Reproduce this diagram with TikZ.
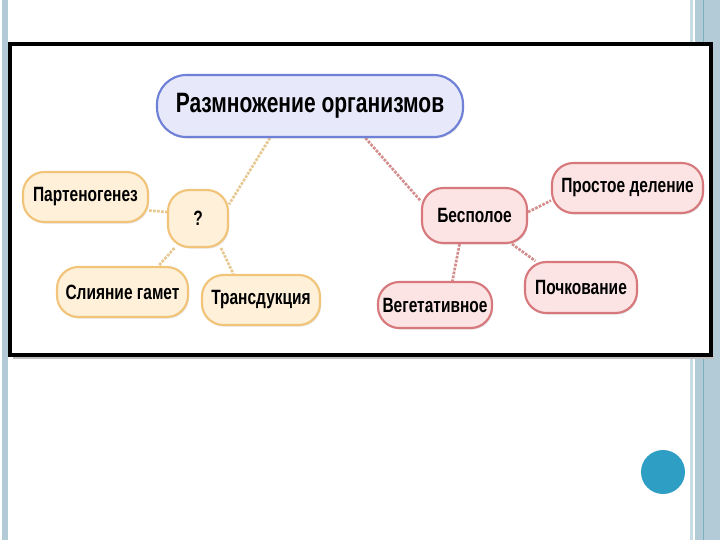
\documentclass[tikz,border=0pt]{standalone}
\usepackage{fontspec}
\newfontfamily\nf[FakeStretch=0.75]{Liberation Sans}
\usetikzlibrary{calc,shadows}
\definecolor{barblue}{HTML}{B2CBD6}
\definecolor{barlight}{HTML}{C7DCE4}
\definecolor{barline}{HTML}{7FAEC0}
\definecolor{circ}{HTML}{2F9EC4}
\definecolor{ofill}{HTML}{FEF0D9}
\definecolor{oline}{HTML}{F1C47A}
\definecolor{ocon}{HTML}{E6C890}
\definecolor{rfill}{HTML}{FDE4E4}
\definecolor{rline}{HTML}{D7787C}
\definecolor{rcon}{HTML}{D48C8C}
\definecolor{bfill}{HTML}{E7E9FB}
\definecolor{bline}{HTML}{6F81D6}
\pgfdeclarelayer{bg}
\pgfdeclarelayer{conn}
\pgfsetlayers{bg,conn,main}
\tikzset{
  bx/.style={rectangle, rounded corners=16pt, line width=1.6pt, inner sep=0pt,
    font=\nf\bfseries\fontsize{15.5}{18}\selectfont, text=black,
    drop shadow={opacity=0.22, shadow xshift=0.8pt, shadow yshift=-1.2pt}},
  ob/.style={bx, draw=oline, fill=ofill},
  rb/.style={bx, draw=rline, fill=rfill},
  mb/.style={bx, draw=bline, fill=bfill, rounded corners=22pt,
    font=\nf\bfseries\fontsize{21}{24}\selectfont},
  oc/.style={draw=ocon, line width=2pt, densely dotted},
  rc/.style={draw=rcon, line width=2pt, densely dotted}
}
\begin{document}
\begin{tikzpicture}[x=0.75pt,y=-0.75pt]
\useasboundingbox (0,0) rectangle (720,540);
\begin{pgfonlayer}{bg}
  \fill[white] (0,0) rectangle (720,540);
  \fill[barblue] (2,0) rectangle (8,540);
  \fill[barlight] (690,0) rectangle (693,540);
  \fill[barblue] (695,0) rectangle (720,540);
  \draw[barline, line width=0.8pt] (703.5,0) -- (703.5,540);
  \fill[black!25] (13,355) rectangle (714,359);
  \filldraw[fill=white, draw=black, line width=2.3pt] (10,44) rectangle (711,355);
  \fill[circ] (663,472) circle[radius=16.5pt];
\end{pgfonlayer}

\node[mb, minimum width=229.5pt, minimum height=46.5pt] (main) at (310,106) {Размножение организмов};
\node[ob, minimum width=93.75pt, minimum height=37.5pt] (part) at (85.5,197) {Партеногенез};
\node[ob, minimum width=45pt, minimum height=42.75pt] (q) at (198,218.5) {?};
\node[ob, minimum width=98.25pt, minimum height=37.5pt] (sl) at (122.5,292) {Слияние гамет};
\node[ob, minimum width=88.5pt, minimum height=37.5pt] (tr) at (261,300) {Трансдукция};
\node[rb, minimum width=78.75pt, minimum height=41.25pt] (bs) at (474.5,215.5) {Бесполое};
\node[rb, minimum width=113.25pt, minimum height=37.5pt] (pr) at (627.5,188) {Простое деление};
\node[rb, minimum width=85.5pt, minimum height=34.5pt] (vg) at (435,305) {Вегетативное};
\node[rb, minimum width=84pt, minimum height=38.25pt] (pc) at (581,287.5) {Почкование};

\begin{pgfonlayer}{conn}
  \draw[oc] ($(main.south west)!0.37!(main.south east)$) -- ($(q.north east)!0.26!(q.south east)$);
  \draw[oc] ($(part.north east)!0.76!(part.south east)$) -- ($(q.north west)!0.39!(q.south west)$);
  \draw[oc] ($(q.south west)!0.12!(q.south east)$) -- ($(sl.north west)!0.77!(sl.north east)$);
  \draw[oc] ($(q.south west)!0.87!(q.south east)$) -- ($(tr.north west)!0.27!(tr.north east)$);
  \draw[rc] ($(main.south west)!0.68!(main.south east)$) -- ($(bs.north west)!0.25!(bs.south west)$);
  \draw[rc] ($(bs.north east)!0.44!(bs.south east)$) -- ($(pr.north west)!0.74!(pr.south west)$);
  \draw[rc] ($(bs.south west)!0.36!(bs.south east)$) -- ($(vg.north west)!0.65!(vg.north east)$);
  \draw[rc] ($(bs.south west)!0.85!(bs.south east)$) -- ($(pc.north west)!0.1!(pc.north east)$);
\end{pgfonlayer}
\end{tikzpicture}
\end{document}
